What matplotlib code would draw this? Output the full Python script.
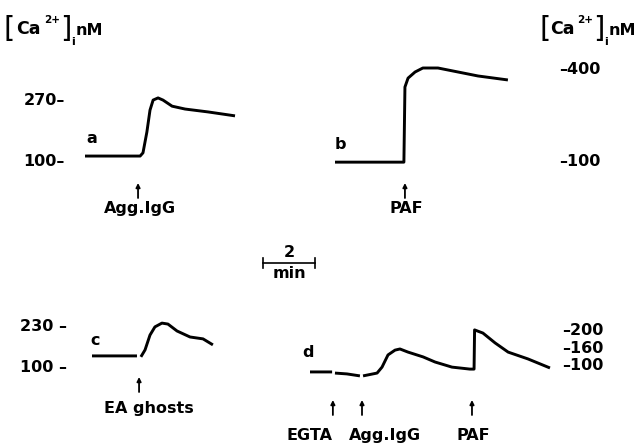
import numpy as np
import matplotlib
matplotlib.use('Agg')
import matplotlib.pyplot as plt
from matplotlib.lines import Line2D

plt.rcParams['font.family'] = 'DejaVu Sans'
plt.rcParams['font.weight'] = 'bold'

nan = np.nan

# --- traces: time (min from start of trace) and [Ca2+]i (nM) ---
a_t = [0, 2.12, 2.23, 2.38, 2.5, 2.62, 2.81, 3.0, 3.35, 3.85, 4.73, 5.77]
a_ca = [111, 111, 120, 178, 239, 267, 273, 267, 250, 242, 234, 223]

b_t = [0, 2.65, 2.69, 2.81, 3.08, 3.38, 3.96, 4.73, 5.5, 6.65]
b_ca = [93, 93, 338, 367, 387, 400, 400, 387, 374, 361]

c_t = [0, 1.73, nan, 1.88, 2.04, 2.23, 2.42, 2.69, 2.92, 3.27, 3.77, 4.27, 4.65]
c_ca = [132, 132, nan, 129, 151, 198, 224, 236, 233, 211, 192, 186, 167]

d_t = [0, 0.85, nan, 0.96, 1.42, 1.92, nan, 2.04, 2.58, 2.77, 3.0, 3.27, 3.46,
       3.77, 4.35, 4.81, 5.46, 6.15, 6.31, 6.33, 6.42, 6.65, 7.12, 7.62,
       8.38, 9.23]
d_ca = [72, 72, nan, 68, 65, 58, nan, 58, 68, 89, 132, 149, 153,
        142, 125, 107, 89, 82, 82, 198, 196, 191, 169, 142,
        118, 86]

# --- stimuli (arrow time, label) ---
a_stim_t = [2.04]
a_stim = ['Agg.IgG']
b_stim_t = [2.69]
b_stim = ['PAF']
c_stim_t = [1.81]
c_stim = ['EA ghosts']
d_stim_t = [0.88, 2.0, 6.23]
d_stim = ['EGTA', 'Agg.IgG', 'PAF']

# tick values / labels
a_ticks, a_labels = [100, 270], ['100–', '270–']
b_ticks, b_labels = [100, 400], ['–100', '–400']
c_ticks, c_labels = [100, 230], ['100 –', '230 –']
d_ticks, d_labels = [100, 160, 200], ['–100', '–160', '–200']

W, H = 637, 445
PX_PER_MIN = 26.0
FS = 11.5

fig = plt.figure(figsize=(W / 100, H / 100), dpi=100)


def fy(y):
    return H - y


def make_axes(left, right, top, bottom, t0):
    ax = fig.add_axes([left / W, 1 - bottom / H, (right - left) / W,
                       (bottom - top) / H])
    ax.set_xlim((left - t0) / PX_PER_MIN, (right - t0) / PX_PER_MIN)
    for s in ax.spines.values():
        s.set_visible(False)
    ax.set_xticks([])
    ax.tick_params(axis='y', length=0, labelsize=FS)
    ax.patch.set_alpha(0)
    return ax


def linear_ylim(ax, top, bottom, cal):
    (v1, p1), (v2, p2) = cal
    slope = (p2 - p1) / (v2 - v1)
    ax.set_ylim(v1 + (bottom - p1) / slope, v1 + (top - p1) / slope)


def stimuli(ax, times, labels, label_x, head, tail, base):
    for t, lab, lx in zip(times, labels, label_x):
        ax.annotate('', xy=(t, fy(head)), xytext=(t, fy(tail)),
                    xycoords=('data', 'figure pixels'),
                    textcoords=('data', 'figure pixels'),
                    arrowprops=dict(arrowstyle='-|>', lw=1.3, color='k',
                                    mutation_scale=6, shrinkA=0, shrinkB=0),
                    annotation_clip=False)
        ax.annotate(lab, xy=(lx, fy(base)), xycoords=('data', 'figure pixels'),
                    ha='center', va='baseline', fontsize=FS,
                    fontweight='bold', annotation_clip=False)


def ca_title(xs):
    # xs: left pixel of '[', 'Ca', '2+', ']', 'i', 'nM'
    parts = [('[', 21, 'normal', 'center', 29),
             ('Ca', 12.5, 'bold', 'baseline', 34),
             ('2+', 7.5, 'bold', 'baseline', 23),
             (']', 21, 'normal', 'center', 29),
             ('i', 8, 'bold', 'baseline', 45),
             ('nM', 11.5, 'bold', 'baseline', 35)]
    for x, (s, size, weight, va, y) in zip(xs, parts):
        fig.text(x / W, fy(y) / H, s, fontsize=size, fontweight=weight,
                 ha='left', va=va)


LW = 2.1

# panel a
ax_a = make_axes(80, 245, 85, 170, 85)
linear_ylim(ax_a, 85, 170, ((100, 160), (270, 99)))
ax_a.plot(a_t, a_ca, color='k', lw=LW, solid_capstyle='butt')
ax_a.set_yticks(a_ticks, labels=a_labels)
ax_a.tick_params(axis='y', pad=11)
ax_a.text(0.27, 161, 'a', ha='center', va='center', fontsize=FS)
stimuli(ax_a, a_stim_t, a_stim, [2.12], 183, 198, 213)

# panel b
ax_b = make_axes(330, 515, 55, 170, 335)
linear_ylim(ax_b, 55, 170, ((100, 160), (400, 68)))
ax_b.plot(b_t, b_ca, color='k', lw=LW, solid_capstyle='butt')
ax_b.yaxis.tick_right()
ax_b.set_yticks(b_ticks, labels=b_labels)
ax_b.tick_params(axis='y', pad=32)
ax_b.text(0.19, 149, 'b', ha='center', va='center', fontsize=FS)
stimuli(ax_b, b_stim_t, b_stim, [2.73], 183, 198, 213)

# panel c
ax_c = make_axes(85, 220, 315, 375, 92)
linear_ylim(ax_c, 315, 375, ((100, 366), (230, 325)))
ax_c.plot(c_t, c_ca, color='k', lw=LW, solid_capstyle='butt')
ax_c.set_yticks(c_ticks, labels=c_labels)
ax_c.tick_params(axis='y', pad=13)
ax_c.text(0.12, 182, 'c', ha='center', va='center', fontsize=FS)
stimuli(ax_c, c_stim_t, c_stim, [2.19], 377, 392, 413)

# panel d: non-linear calibration of the right-hand scale
V_KN = [0, 100, 160, 200, 400]
U_KN = [-100 * 17 / 60, 0, 17, 35, 35 + 200 * 18 / 40]


def fwd(v):
    return np.interp(v, V_KN, U_KN)


def inv(u):
    return np.interp(u, U_KN, V_KN)


ax_d = make_axes(300, 555, 320, 385, 310)
ax_d.set_yscale('function', functions=(fwd, inv))
ax_d.set_ylim(inv(364 - 385), inv(364 - 320))
ax_d.plot(d_t, d_ca, color='k', lw=LW, solid_capstyle='butt')
ax_d.yaxis.tick_right()
ax_d.set_yticks(d_ticks, labels=d_labels)
ax_d.yaxis.set_minor_locator(matplotlib.ticker.NullLocator())
ax_d.tick_params(axis='y', pad=5)
ax_d.text(-0.08, 139, 'd', ha='center', va='center', fontsize=FS)
stimuli(ax_d, d_stim_t, d_stim, [0.0, 2.88, 6.27], 400, 415, 440)

# y-axis titles
ca_title([4, 16, 44, 60, 71, 76])
ca_title([539, 550, 577, 593, 604, 609])

# time scale bar (2 min)
x0, x1, yb = 263, 263 + 2 * PX_PER_MIN, fy(263)
fig.add_artist(Line2D([x0 / W, x1 / W], [yb / H, yb / H], color='k', lw=1.2))
for xe in (x0, x1):
    fig.add_artist(Line2D([xe / W, xe / W], [(yb - 5) / H, (yb + 5) / H],
                          color='k', lw=1.2))
fig.text((x0 + x1) / 2 / W, (yb + 3) / H, '2', ha='center', va='bottom',
         fontsize=FS)
fig.text((x0 + x1) / 2 / W, (yb - 3) / H, 'min', ha='center', va='top',
         fontsize=FS)

fig.savefig('out.png', dpi=100)
